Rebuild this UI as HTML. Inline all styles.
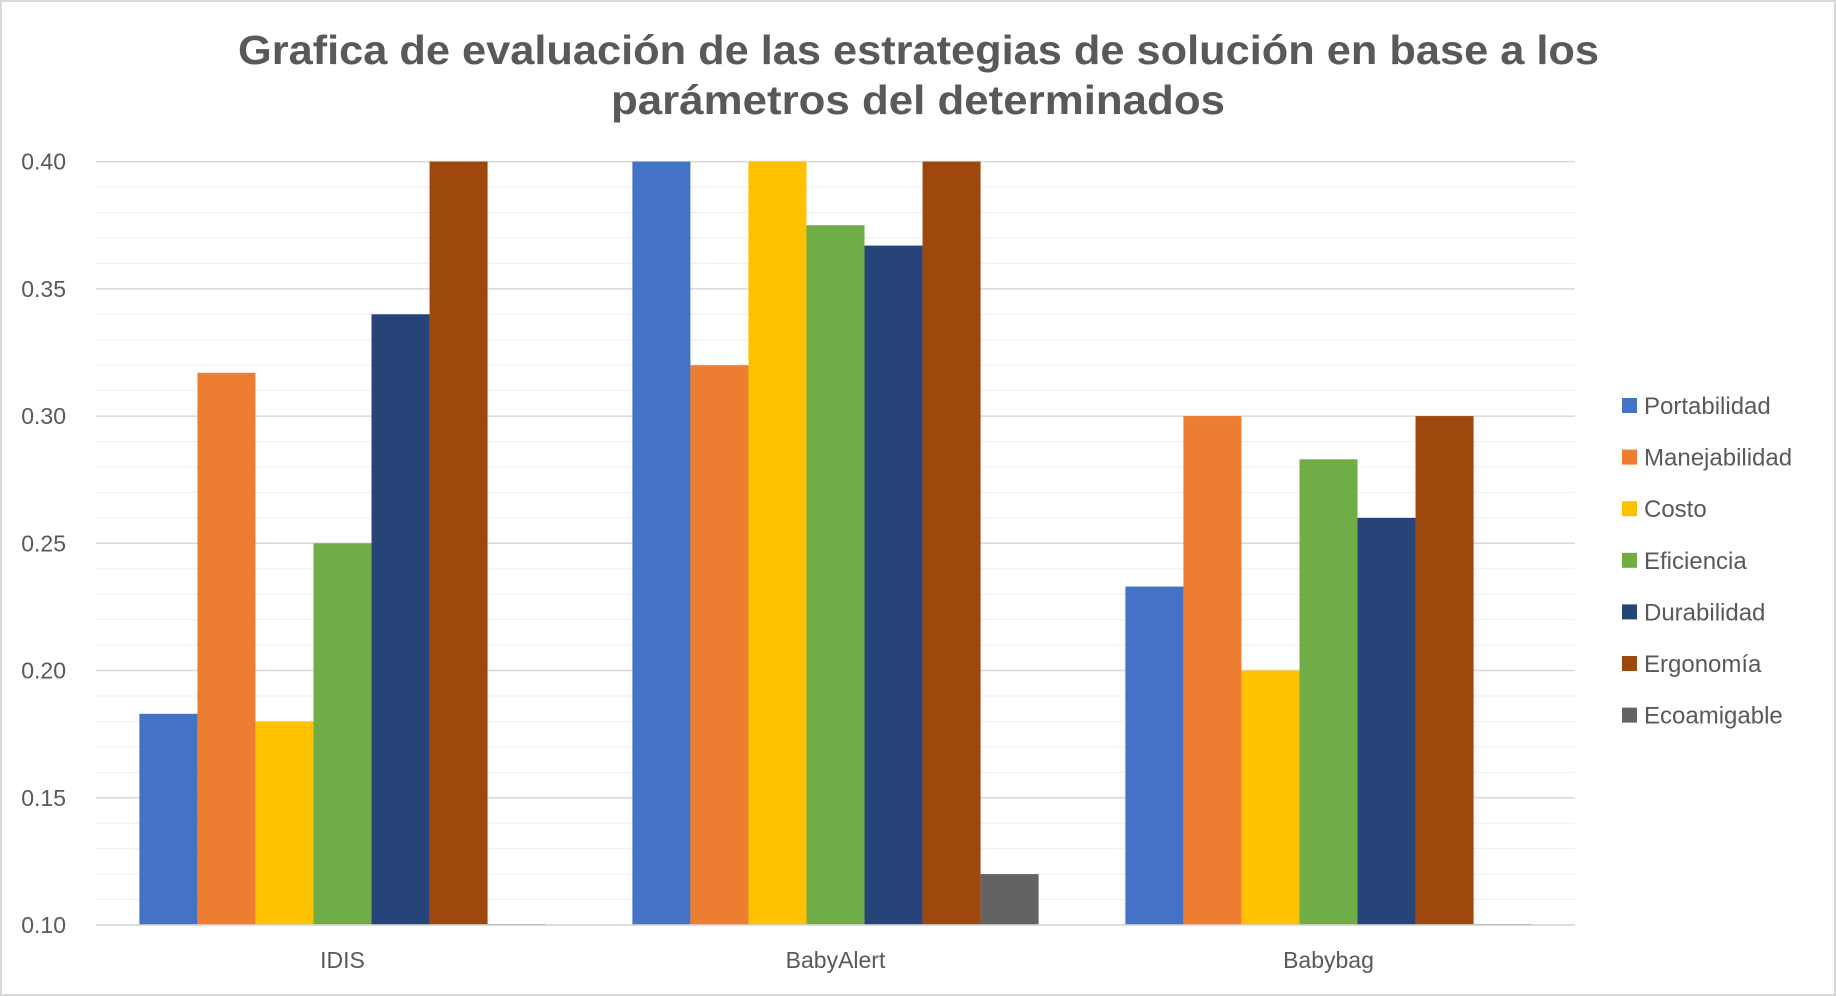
<!DOCTYPE html>
<html><head><meta charset="utf-8"><style>
html,body{margin:0;padding:0;background:#fff}
svg{display:block}
</style></head><body>
<svg id="chart" width="1836" height="996" xmlns="http://www.w3.org/2000/svg" font-family="'Liberation Sans', sans-serif">
<rect x="1" y="1" width="1834" height="994" fill="#fff" stroke="#d9d9d9" stroke-width="2"/>
<text x="238" y="64" textLength="1361" lengthAdjust="spacingAndGlyphs" font-size="41" font-weight="bold" fill="#595959">Grafica de evaluación de las estrategias de solución en base a los</text>
<text x="611" y="114" textLength="614" lengthAdjust="spacingAndGlyphs" font-size="41" font-weight="bold" fill="#595959">parámetros del determinados</text>
<g id="grid"></g><g id="bars"></g><g id="axes"></g><g id="legend"></g>
</svg>
<script>
const categories = ["IDIS","BabyAlert","Babybag"];
const seriesNames = ["Portabilidad","Manejabilidad","Costo","Eficiencia","Durabilidad","Ergonomía","Ecoamigable"];
const seriesColors = ["#4472c4","#ed7d31","#ffc000","#70ad47","#264478","#9e480e","#636363"];
const portabilidad = [0.183,0.40,0.233];
const manejabilidad = [0.317,0.32,0.30];
const costo = [0.18,0.40,0.20];
const eficiencia = [0.25,0.375,0.283];
const durabilidad = [0.34,0.367,0.26];
const ergonomia = [0.40,0.40,0.30];
const ecoamigable = [0.10,0.12,0.10];
const yTicks = [0.10,0.15,0.20,0.25,0.30,0.35,0.40];
const series = [portabilidad,manejabilidad,costo,eficiencia,durabilidad,ergonomia,ecoamigable];

const NS="http://www.w3.org/2000/svg";
const X0=96, X1=1575, Y0=925, Y1=161.6, VMIN=0.10, VMAX=0.40;
function y(v){return Y0-(v-VMIN)/(VMAX-VMIN)*(Y0-Y1);}
const catW=(X1-X0)/categories.length;
const barW=catW*0.824/seriesNames.length;
function xBar(c,s){return X0+c*catW+(catW-barW*seriesNames.length)/2+s*barW;}
function mk(tag,attrs,parent){const e=document.createElementNS(NS,tag);for(const k in attrs)e.setAttribute(k,attrs[k]);document.getElementById(parent).appendChild(e);return e;}

for(let v=VMIN;v<=VMAX+1e-9;v+=0.01){
  const major=Math.abs(Math.round(v*100)%5)===0;
  const l=mk('line',{x1:X0,x2:X1,y1:y(v),y2:y(v),stroke:major?'#d9d9d9':'#efefef','stroke-width':major?1.5:1},'grid');
  
  
}
yTicks.forEach(t=>{
  const e=mk('text',{x:66,y:y(t)+8,'text-anchor':'end','font-size':23,fill:'#595959'},'axes');
  e.textContent=t.toFixed(2);
  
  
});
series.forEach((vals,s)=>{
  vals.forEach((v,c)=>{
    const h=Math.max(y(VMIN)-y(v),1);
    const r=mk('rect',{x:xBar(c,s),y:y(v)-(h===1&&v<=VMIN?1:0),width:barW,height:h,fill:seriesColors[s]},'bars');
    
    
  });
});
const ax=mk('line',{x1:X0,x2:X1,y1:Y0,y2:Y0,stroke:'#d9d9d9','stroke-width':1.5},'axes');


categories.forEach((c,i)=>{
  const e=mk('text',{x:X0+(i+0.5)*catW,y:968,'text-anchor':'middle','font-size':23,fill:'#595959'},'axes');
  e.textContent=c;
  
  
});
seriesNames.forEach((n,i)=>{
  const yy=406+i*51.6;
  const r=mk('rect',{x:1622,y:yy-8,width:15,height:15,fill:seriesColors[i]},'legend');
  
  
  const t=mk('text',{x:1644,y:yy+8,'font-size':24,fill:'#595959'},'legend');
  t.textContent=n;
  
  
});
</script>
</body></html>
